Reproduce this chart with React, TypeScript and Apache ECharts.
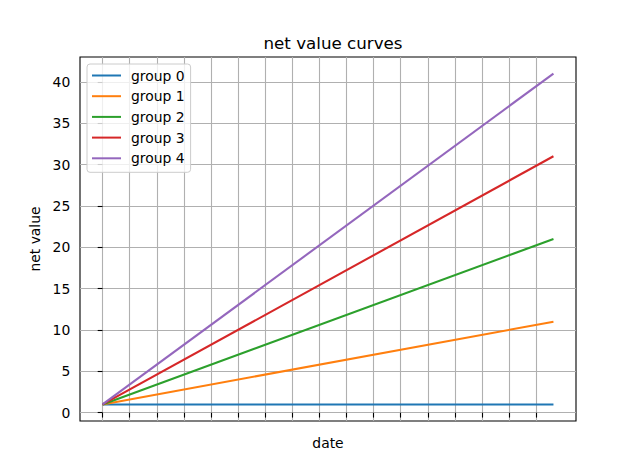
import React, { useEffect, useRef } from "react";
import * as echarts from "echarts";

// day index of first and last observation (500 daily points)
const dayIndex = [0, 499];
const group0 = [1, 1];
const group1 = [1, 11];
const group2 = [1, 21];
const group3 = [1, 31];
const group4 = [1, 41];
const groupNames = ["group 0", "group 1", "group 2", "group 3", "group 4"];
const xTickValues = [0, 30, 60, 90, 120, 150, 180, 210, 240, 270, 300, 330, 360, 390, 420, 450, 480];
const yTickValues = [0, 5, 10, 15, 20, 25, 30, 35, 40];

const colors = ["#1f77b4", "#ff7f0e", "#2ca02c", "#d62728", "#9467bd"];
const FONT = "DejaVu Sans";

export default function App() {
  const ref = useRef<HTMLDivElement>(null);
  useEffect(() => {
    if (!ref.current) return;
    const chart = echarts.init(ref.current, undefined, { renderer: "svg" });
    const groups = [group0, group1, group2, group3, group4];
    const span = dayIndex[1] - dayIndex[0];
    const option: any = {
      animation: false,
      backgroundColor: "#ffffff",
      textStyle: { fontFamily: FONT },
      title: {
        text: "net value curves",
        left: 328,
        textAlign: "center",
        top: 29,
        textStyle: { fontFamily: FONT, fontSize: 16.7, fontWeight: "normal", color: "#000" },
      },
      legend: {
        orient: "vertical",
        left: 87,
        top: 64,
        data: groupNames,
        icon: "rect",
        itemWidth: 29,
        itemHeight: 2,
        itemGap: 6.7,
        padding: [4.5, 6, 7, 5],
        backgroundColor: "rgba(255,255,255,0.8)",
        borderColor: "#cccccc",
        borderWidth: 1,
        borderRadius: 3,
        textStyle: { fontFamily: FONT, fontSize: 13.9, color: "#000", lineHeight: 14, padding: [0, 0, 0, 5] },
      },
      grid: {
        left: 80,
        right: 64,
        top: 57,
        bottom: 52,
        show: true,
        borderColor: "#000",
        borderWidth: 1.1,
        backgroundColor: "transparent",
      },
      xAxis: {
        type: "value",
        min: dayIndex[0] - span * 0.05,
        max: dayIndex[1] + span * 0.05,
        name: "date",
        nameLocation: "middle",
        nameGap: 15,
        nameTextStyle: { fontFamily: FONT, fontSize: 13.9, color: "#000" },
        axisLine: { show: false },
        axisTick: { show: true, inside: false, length: 4.86, customValues: xTickValues, lineStyle: { color: "#000", width: 1.1 } },
        axisLabel: { show: false, customValues: xTickValues },
        splitLine: { show: true, lineStyle: { color: "#b0b0b0", width: 1.1 } },
      },
      yAxis: {
        type: "value",
        min: -1,
        max: 43,
        name: "net value",
        nameLocation: "middle",
        nameGap: 28,
        nameTextStyle: { fontFamily: FONT, fontSize: 13.9, color: "#000" },
        axisLine: { show: false },
        axisTick: { show: true, inside: false, length: 4.86, customValues: yTickValues, lineStyle: { color: "#000", width: 1.1 } },
        axisLabel: { show: true, customValues: yTickValues, margin: 9.7, fontFamily: FONT, fontSize: 13.9, color: "#000" },
        splitLine: { show: true, lineStyle: { color: "#b0b0b0", width: 1.1 } },
      },
      series: groups.map((g, i) => ({
        name: groupNames[i],
        type: "line",
        data: g.map((v, k) => [dayIndex[k], v]),
        showSymbol: false,
        symbol: "none",
        lineStyle: { color: colors[i], width: 2.08 },
        itemStyle: { color: colors[i] },
      })),
    };
    chart.setOption(option);
    return () => chart.dispose();
  }, []);
  return <div ref={ref} style={{ position: "fixed", left: 0, top: 0, width: 640, height: 473 }} />;
}
